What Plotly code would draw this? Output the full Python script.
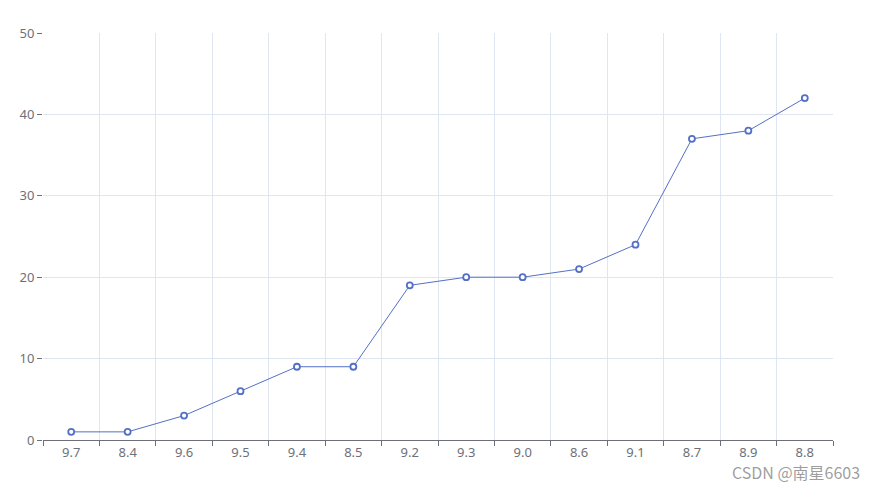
import plotly.graph_objects as go

categories = ["9.7", "8.4", "9.6", "9.5", "9.4", "8.5", "9.2", "9.3", "9.0", "8.6", "9.1", "8.7", "8.9", "8.8"]
values = [1, 1, 3, 6, 9, 9, 19, 20, 20, 21, 24, 37, 38, 42]
y_ticks = [0, 10, 20, 30, 40, 50]

fig = go.Figure()
fig.add_trace(go.Scatter(
    x=categories, y=values, mode="lines+markers",
    line=dict(color="#5470c6", width=1),
    marker=dict(symbol="circle", size=6, color="white",
                line=dict(color="#5470c6", width=1.8)),
    hoverinfo="x+y",
))

fig.update_layout(
    width=870, height=477,
    margin=dict(l=33, r=45, t=25, b=45),
    plot_bgcolor="white", paper_bgcolor="white",
    showlegend=False,
    font=dict(family="Noto Sans, sans-serif", size=12, color="#6E7079"),
    xaxis=dict(
        type="category", tickson="boundaries",
        range=[-0.5, len(categories) - 0.5],
        showgrid=True, gridcolor="#E0E6F1", gridwidth=1,
        showline=True, linecolor="#6E7079", linewidth=1,
        ticks="outside", ticklen=5, tickcolor="#6E7079",
        tickfont=dict(size=13, color="#6E7079"),
        zeroline=False, fixedrange=True,
    ),
    yaxis=dict(
        range=[0, 50], tickvals=y_ticks,
        showgrid=True, gridcolor="#E0E6F1", gridwidth=1,
        showline=False, zeroline=False,
        ticks="outside", ticklen=5, tickcolor="#6E7079",
        tickfont=dict(size=13, color="#6E7079"),
        fixedrange=True,
    ),
)

fig.add_annotation(
    text="CSDN @南星6603", xref="paper", yref="paper",
    x=1.037, y=-0.043, xanchor="right", yanchor="top", showarrow=False,
    font=dict(size=16, color="rgba(140,140,140,0.85)",
              family="Noto Sans CJK SC, Noto Sans, sans-serif"),
)

fig.write_html("out.html")
